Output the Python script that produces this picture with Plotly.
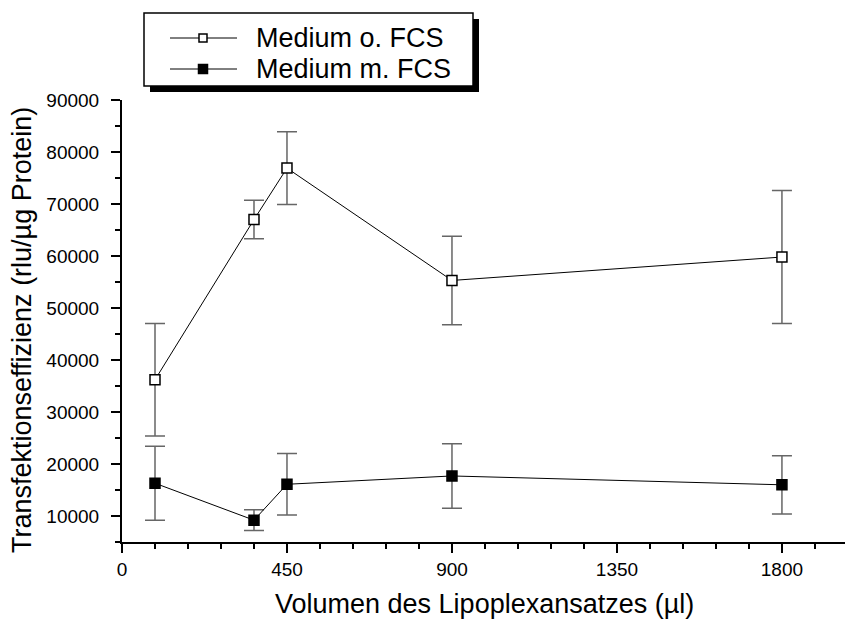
import plotly.graph_objects as go

volumes = [90, 360, 450, 900, 1800]
ohne_fcs = [36200, 67000, 76900, 55300, 59800]
ohne_fcs_err = [10800, 3700, 7000, 8500, 12800]
mit_fcs = [16300, 9200, 16100, 17700, 16000]
mit_fcs_err = [7100, 2000, 5900, 6200, 5600]

series_names = ["Medium o. FCS", "Medium m. FCS"]
x_ticks = [0, 450, 900, 1350, 1800]
y_ticks = [10000, 20000, 30000, 40000, 50000, 60000, 70000, 80000, 90000]
x_title = "Volumen des Lipoplexansatzes (µl)"
y_title = "Transfektionseffizienz (rlu/µg Protein)"

font = "Liberation Sans, Arial, sans-serif"

fig = go.Figure()
err_style = dict(type="data", color="#666666", thickness=1.5, width=10)
fig.add_trace(go.Scatter(
    x=volumes, y=ohne_fcs, mode="lines+markers", name=series_names[0],
    line=dict(color="black", width=1),
    marker=dict(symbol="square", size=10, color="white", line=dict(color="black", width=1.5)),
    error_y=dict(array=ohne_fcs_err, **err_style),
))
fig.add_trace(go.Scatter(
    x=volumes, y=mit_fcs, mode="lines+markers", name=series_names[1],
    line=dict(color="black", width=1),
    marker=dict(symbol="square", size=10, color="black", line=dict(color="black", width=1.5)),
    error_y=dict(array=mit_fcs_err, **err_style),
))

W, H = 845, 619
ml, mr, mt, mb = 122, 0, 100, 77
pw, ph = W - ml - mr, H - mt - mb

def px_x(p):
    return (p - ml) / pw

def px_y(p):
    return (H - mb - p) / ph

# ---- legend (box with drop shadow) ----
def prect(x0, y0, x1, y1, **kw):
    fig.add_shape(type="rect", xref="paper", yref="paper",
                  x0=px_x(x0), x1=px_x(x1), y0=px_y(y1), y1=px_y(y0), **kw)

prect(150, 19, 479, 92, fillcolor="black", line=dict(width=0))
prect(144, 13, 473, 86, fillcolor="white", line=dict(color="black", width=1.5))
row_y = [38, 69]
fills = ["white", "black"]
sizes = [8, 9]
for name, ry, fc, s in zip(series_names, row_y, fills, sizes):
    fig.add_shape(type="line", xref="paper", yref="paper",
                  x0=px_x(170), x1=px_x(237), y0=px_y(ry), y1=px_y(ry),
                  line=dict(color="black", width=1))
    prect(203 - s / 2, ry - s / 2, 203 + s / 2, ry + s / 2,
          fillcolor=fc, line=dict(color="black", width=1.5))
    fig.add_annotation(text=name, xref="paper", yref="paper",
                       x=px_x(254), y=px_y(ry), xanchor="left", yanchor="middle",
                       showarrow=False, font=dict(size=27, family=font, color="black"))

# ---- axis titles ----
fig.add_annotation(text=x_title, xref="paper", yref="paper",
                   x=px_x(484), y=px_y(604), xanchor="center", yanchor="middle",
                   showarrow=False, font=dict(size=27, family=font, color="black"))
fig.add_annotation(text=y_title, xref="paper", yref="paper", textangle=-90,
                   x=px_x(22), y=px_y(330), xanchor="center", yanchor="middle",
                   showarrow=False, font=dict(size=27, family=font, color="black"))

fig.update_layout(
    width=W, height=H,
    margin=dict(l=ml, r=mr, t=mt, b=mb, pad=0),
    paper_bgcolor="white", plot_bgcolor="white",
    font=dict(family=font, color="black"),
    showlegend=False,
    xaxis=dict(range=[0, 1972], tickvals=x_ticks, ticktext=[str(v) for v in x_ticks],
               showgrid=False, zeroline=False, showline=True, linecolor="black", linewidth=2,
               ticks="outside", ticklen=9, tickwidth=1.5, tickcolor="black",
               tickfont=dict(size=19, family=font), ticklabelstandoff=0,
               minor=dict(dtick=90, tick0=0, ticks="outside", ticklen=5, tickwidth=1.5, tickcolor="black")),
    yaxis=dict(range=[5000, 90000], tickvals=y_ticks, ticktext=[str(v) for v in y_ticks],
               showgrid=False, zeroline=False, showline=True, linecolor="black", linewidth=2,
               ticks="outside", ticklen=9, tickwidth=1.5, tickcolor="black",
               tickfont=dict(size=19, family=font), ticklabelstandoff=8,
               minor=dict(dtick=5000, tick0=0, ticks="outside", ticklen=5, tickwidth=1.5, tickcolor="black")),
)

fig.write_html("out.html")
